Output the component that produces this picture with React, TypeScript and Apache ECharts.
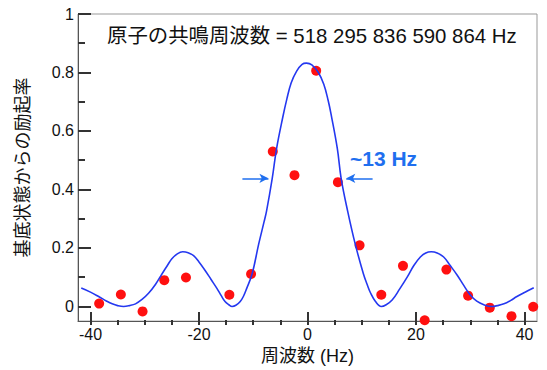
import React, { useEffect, useRef } from "react";
import * as echarts from "echarts";

const curveX = [-41.7, -40, -38.5, -37, -36, -35, -33.9, -32.8, -31.7, -30.5, -29.3, -28, -26.8, -25.8, -25, -24, -23, -22, -21, -20, -18.9, -17.8, -16.7, -15.9, -15.2, -14.5, -13.9, -13.2, -12.4, -11.8, -11.2, -10.2, -9, -8, -7.55, -6.5, -5.7, -4.5, -3.8, -3, -2, -1, -0.2, 0.8, 2, 3, 3.8, 4.4, 5.5, 6.2, 7.4, 8.8, 10.3, 11, 11.6, 12.5, 13.6, 14.5, 15.6, 17, 18.4, 19.6, 20.8, 21.8, 22.8, 23.9, 25.1, 26.3, 27.6, 28.8, 30, 31.2, 32.5, 34, 35, 36.2, 37.4, 38.6, 40, 41.7];
const curveY = [0.063, 0.049, 0.034, 0.018, 0.009, 0.003, 0.0, 0.003, 0.009, 0.024, 0.045, 0.076, 0.112, 0.141, 0.163, 0.18, 0.187, 0.184, 0.174, 0.152, 0.124, 0.093, 0.062, 0.037, 0.017, 0.006, 0.0, 0.004, 0.017, 0.035, 0.062, 0.112, 0.213, 0.29, 0.326, 0.438, 0.54, 0.652, 0.71, 0.765, 0.805, 0.828, 0.832, 0.826, 0.8, 0.76, 0.705, 0.652, 0.54, 0.438, 0.326, 0.213, 0.112, 0.075, 0.047, 0.018, 0.0, 0.006, 0.022, 0.06, 0.101, 0.14, 0.169, 0.183, 0.187, 0.183, 0.169, 0.14, 0.107, 0.072, 0.039, 0.018, 0.006, 0.0, 0.003, 0.009, 0.02, 0.034, 0.048, 0.064];

const pointX = [-38.4, -34.4, -30.4, -26.4, -22.4, -14.4, -10.4, -6.4, -2.4, 1.6, 5.6, 9.6, 13.6, 17.6, 21.6, 25.6, 29.6, 33.6, 37.6, 41.6];
const pointY = [0.01, 0.041, -0.017, 0.09, 0.099, 0.04, 0.111, 0.53, 0.449, 0.806, 0.425, 0.209, 0.04, 0.139, -0.047, 0.126, 0.037, -0.004, -0.033, -0.001];

const xMajorTicks = [-40, -20, 0, 20, 40];
const xMinorTicks = [-40, -35, -30, -25, -20, -15, -10, -5, 0, 5, 10, 15, 20, 25, 30, 35, 40];
const yMajorTicks = [0, 0.2, 0.4, 0.6, 0.8, 1];
const yMinorTicks = [0.1, 0.3, 0.5, 0.7, 0.9];

const titleText = "原子の共鳴周波数 = 518 295 836 590 864 Hz";
const widthText = "~13 Hz";
const xName = "周波数 (Hz)";
const yName = "基底状態からの励起率";
const halfMax = 0.438;
const arrowLeft = [-12.0, -7.2];
const arrowRight = [12.0, 7.15];

const FONT = "'Liberation Sans', Arial, 'Noto Sans CJK JP', sans-serif";
const AXIS_COLOR = "#555555";
const TICK_COLOR = "#333333";
const ANNOT_BLUE = "#1f6fef";

const GRID = { left: 78, right: 10, top: 14, bottom: 45 };
const W = 547;
const H = 370;

export default function App() {
  const ref = useRef<HTMLDivElement>(null);
  useEffect(() => {
    document.body.style.margin = "0";
    if (!ref.current) return;
    const chart = echarts.init(ref.current, null, { renderer: "svg" });
    const xMin = -42.3;
    const xMax = 42.3;
    const yMin = -0.05;
    const yMax = 1;
    const gridW = W - GRID.left - GRID.right;
    const gridH = H - GRID.top - GRID.bottom;
    chart.setOption({
      animation: false,
      grid: {
        ...GRID,
        show: true,
        borderColor: "#999",
        borderWidth: 1,
        backgroundColor: "transparent",
      },
      xAxis: [
        {
          type: "value",
          min: xMin,
          max: xMax,
          position: "bottom",
          axisLine: { show: true, onZero: false, lineStyle: { color: AXIS_COLOR, width: 1 } },
          axisTick: { show: true, inside: true, length: 9, customValues: xMajorTicks, lineStyle: { color: TICK_COLOR, width: 2 } },
          axisLabel: { customValues: xMajorTicks, fontSize: 16, color: "#111", margin: 5, fontFamily: FONT },
          splitLine: { show: false },
          name: xName,
          nameLocation: "middle",
          nameGap: 25,
          nameTextStyle: { fontSize: 18, color: "#111", fontFamily: FONT },
        },
        {
          type: "value",
          min: xMin,
          max: xMax,
          position: "top",
          offset: -gridH,
          axisLine: { show: false, onZero: false },
          axisTick: { show: true, inside: false, length: 5, customValues: xMinorTicks, lineStyle: { color: TICK_COLOR, width: 2 } },
          axisLabel: { show: false },
          splitLine: { show: false },
        },
      ],
      yAxis: [
        {
          type: "value",
          min: yMin,
          max: yMax,
          position: "left",
          axisLine: { show: true, onZero: false, lineStyle: { color: AXIS_COLOR, width: 1 } },
          axisTick: { show: true, inside: true, length: 13, customValues: yMajorTicks, lineStyle: { color: TICK_COLOR, width: 2 } },
          axisLabel: {
            customValues: yMajorTicks,
            fontSize: 16,
            color: "#111",
            margin: 4,
            fontFamily: FONT,
          },
          splitLine: { show: false },
          name: yName,
          nameLocation: "middle",
          nameGap: 46,
          nameTextStyle: { fontSize: 18, color: "#111", fontFamily: FONT },
        },
        {
          type: "value",
          min: yMin,
          max: yMax,
          position: "right",
          offset: -gridW,
          axisLine: { show: false, onZero: false },
          axisTick: { show: true, inside: false, length: 7, customValues: yMinorTicks, lineStyle: { color: TICK_COLOR, width: 2 } },
          axisLabel: { show: false },
          splitLine: { show: false },
        },
      ],
      graphic: [
        {
          type: "text",
          left: 107,
          top: 26,
          style: { text: titleText, fontSize: 20.4, fill: "#111", fontFamily: FONT },
        },
        {
          type: "text",
          left: 350,
          top: 148,
          style: { text: widthText, fontSize: 21, fontWeight: "bold", fill: ANNOT_BLUE, fontFamily: FONT },
        },
      ],
      series: [
        {
          type: "scatter",
          xAxisIndex: 0,
          yAxisIndex: 0,
          data: pointX.map((x, i) => [x, pointY[i]]),
          symbol: "circle",
          symbolSize: 10,
          itemStyle: { color: "#ff1010", opacity: 1 },
          z: 2,
          silent: true,
        },
        {
          type: "line",
          xAxisIndex: 0,
          yAxisIndex: 0,
          data: curveX.map((x, i) => [x, curveY[i]]),
          smooth: 0.4,
          showSymbol: false,
          lineStyle: { color: "#2438f0", width: 1.6 },
          z: 3,
          silent: true,
          markLine: {
            silent: true,
            animation: false,
            symbol: ["none", "arrow"],
            symbolSize: [7, 9],
            label: { show: false },
            lineStyle: { color: ANNOT_BLUE, width: 1.5, type: "solid" },
            data: [
              [{ coord: [arrowLeft[0], halfMax] }, { coord: [arrowLeft[1], halfMax] }],
              [{ coord: [arrowRight[0], halfMax] }, { coord: [arrowRight[1], halfMax] }],
            ],
          },
        },
      ],
    });
    return () => chart.dispose();
  }, []);
  return <div ref={ref} style={{ width: W, height: H }} />;
}
